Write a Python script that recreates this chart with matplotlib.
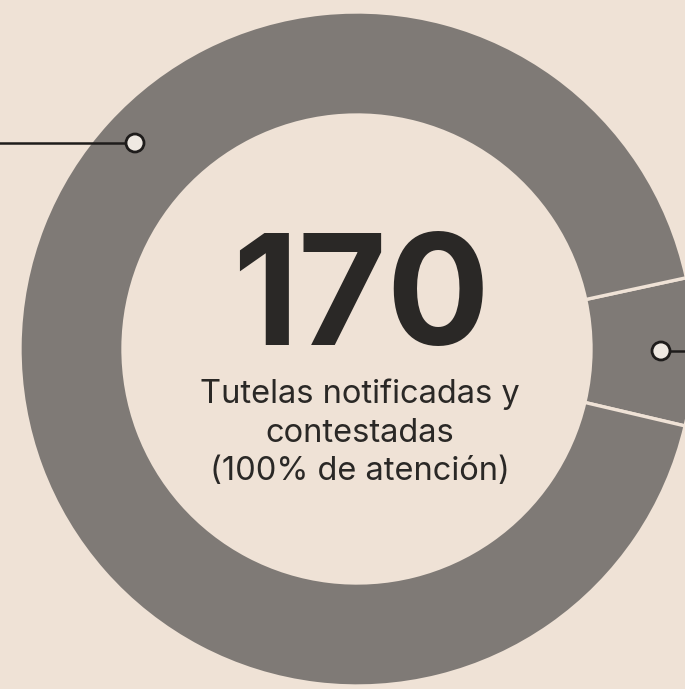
import matplotlib.pyplot as plt
from matplotlib.patches import Circle

# Data
labels = ['Otro', 'Resto']
values = [12, 158]
total = 170
subtitle = ['Tutelas notificadas y', 'contestadas', '(100% de atención)']

paper = '#efe2d6'
ring = '#7f7a76'
ink = '#2a2826'

fig = plt.figure(figsize=(6.85, 6.89), dpi=100, facecolor=paper)
ax = fig.add_axes([0, 0, 1, 1], facecolor=paper)

# donut, pixel coordinates (y up)
cx, cy = 357, 340
ax.pie(values, radius=337, center=(cx, cy), startangle=-13.2,
       colors=[ring, ring], frame=True,
       wedgeprops=dict(width=103, edgecolor=paper, linewidth=2.4))

ax.set_xlim(0, 685)
ax.set_ylim(0, 689)
ax.set_aspect('equal')
ax.axis('off')

# callout lines with open markers
ax.plot([0, 127], [546, 546], color='#1e1c1b', lw=1.8, zorder=3)
ax.plot([669, 685], [338, 338], color='#1e1c1b', lw=1.8, zorder=3)
for (mx, my) in [(135, 546), (661, 338)]:
    ax.add_patch(Circle((mx, my), 9, facecolor='#efe9e2', edgecolor='#1e1c1b',
                        lw=2, zorder=4))

# centre text
ax.text(361, 344, str(total), ha='center', va='baseline', fontsize=110,
        fontweight='bold', family='Inter', color=ink)
for s, y in zip(subtitle, [286, 247, 209]):
    ax.text(360, y, s, ha='center', va='baseline', fontsize=23.5,
            family='Inter', color=ink)

fig.savefig('out.png', dpi=100, facecolor=paper)
